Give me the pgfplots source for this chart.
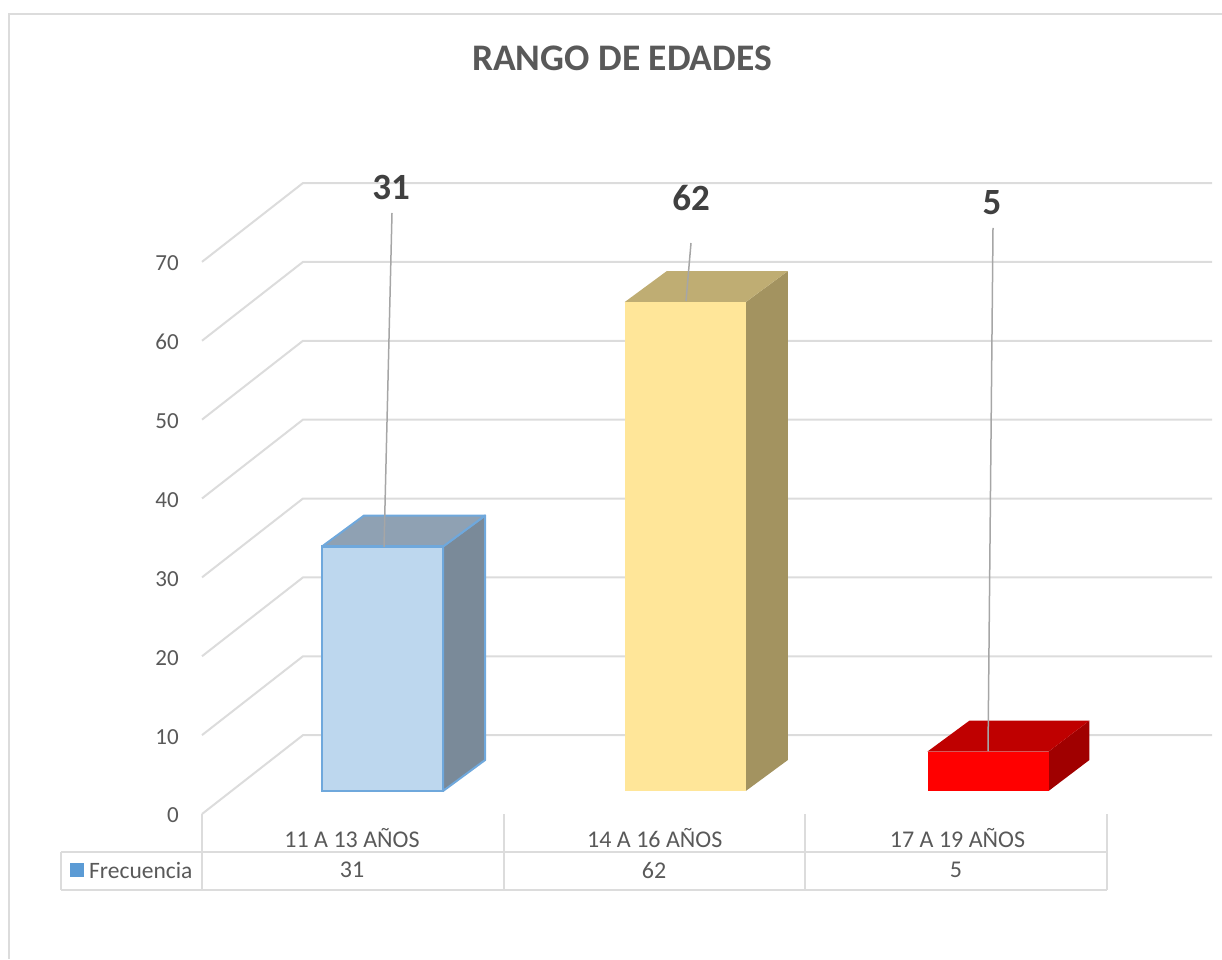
\documentclass[border=0pt]{standalone}
\usepackage{fontspec}
\setmainfont{Carlito}
\usepackage{pgfplots}
\pgfplotsset{compat=1.18}

\definecolor{gridc}{HTML}{DCDCDC}
\definecolor{txt}{HTML}{595959}
\definecolor{lbl}{HTML}{404040}
\definecolor{leader}{HTML}{A6A6A6}
\definecolor{blueedge}{HTML}{6FA8DC}

\newcommand{\fs}[1]{\fontsize{#1}{#1}\selectfont}

\begin{document}
\begin{tikzpicture}
\path[use as bounding box] (0pt,0pt) rectangle (1222pt,959pt);

% walls and y ticks: x in pixels of the wall, y on the front plane
\begin{axis}[
    at={(202pt,145pt)}, anchor=south west,
    scale only axis, width=1010pt, height=631pt,
    xmin=202, xmax=1212, ymin=0, ymax=80,
    clip=false,
    axis line style={draw=none},
    xtick=\empty,
    ytick={0,10,20,30,40,50,60,70},
    major tick length=0pt,
    yticklabel style={font=\fs{23}, text=txt, inner sep=0pt, xshift=-23pt, yshift=-1.5pt},
    /pgf/number format/assume math mode=true,
]
\pgfplotsinvokeforeach{0,10,...,70}{
    \addplot[gridc, line width=2pt, line join=round] coordinates {(202,#1) (303,#1+10) (1212,#1+10)};
}
\end{axis}

% bars: x in categories, y in values from the floor of the bars
\begin{axis}[
    at={(202pt,145pt)}, anchor=south west,
    scale only axis, width=1010pt, height=631pt,
    xmin=-0.5962, xmax=2.7399, ymin=-2.92, ymax=77.1,
    clip=false,
    axis line style={draw=none},
    ytick=\empty,
    xtick={0,1,2},
    xticklabels={11 A 13 AÑOS, 14 A 16 AÑOS, 17 A 19 AÑOS},
    major tick length=0pt,
    xticklabel style={font=\fs{24}, text=txt, inner sep=0pt, anchor=center, xshift=-30.5pt, yshift=-24pt},
]
% 11 A 13
\addplot[fill={rgb,255:red,122;green,138;blue,153}, draw=blueedge, line width=2pt, line join=round]
    coordinates {(.2,0) (.339,3.93) (.339,34.93) (.2,31)} --cycle;
\addplot[fill={rgb,255:red,143;green,161;blue,179}, draw=blueedge, line width=2pt, line join=round]
    coordinates {(-.2,31) (.2,31) (.339,34.93) (-.061,34.93)} --cycle;
\addplot[ybar, bar width=121pt, fill={rgb,255:red,189;green,215;blue,238}, draw=blueedge, line width=2.4pt]
    coordinates {(0,31)};
% 14 A 16
\addplot[fill={rgb,255:red,163;green,147;blue,96}, draw=none]
    coordinates {(1.2,0) (1.339,3.93) (1.339,65.93) (1.2,62)} --cycle;
\addplot[fill={rgb,255:red,191;green,173;blue,115}, draw=none]
    coordinates {(.8,62) (1.2,62) (1.339,65.93) (.939,65.93)} --cycle;
\addplot[ybar, bar width=121pt, fill={rgb,255:red,255;green,230;blue,153}, draw=none]
    coordinates {(1,62)};
% 17 A 19
\addplot[fill={rgb,255:red,160;green,0;blue,0}, draw=none]
    coordinates {(2.2,0) (2.335,3.93) (2.335,8.93) (2.2,5)} --cycle;
\addplot[fill={rgb,255:red,191;green,0;blue,0}, draw=none]
    coordinates {(1.8,5) (2.2,5) (2.335,8.93) (1.939,8.93)} --cycle;
\addplot[ybar, bar width=121pt, fill=red, draw=none]
    coordinates {(2,5)};
\end{axis}

% everything else in reference pixels, y downward
\begin{scope}[x=1pt, y=-1pt, yshift=959pt]
\draw[gridc, line width=1.8pt] (1222,14) -- (9,14) -- (9,959);
\node[font=\fs{37.5}\bfseries, text=txt] at (622,58) {RANGO DE EDADES};

% leader lines and data labels
\draw[leader, line width=1.5pt] (384,547) -- (392,213);
\draw[leader, line width=1.5pt] (686,301) -- (691,243);
\draw[leader, line width=1.5pt] (988,751) -- (993,228);
\node[font=\fs{37}\bfseries, text=lbl] at (391,188) {31};
\node[font=\fs{37}\bfseries, text=lbl] at (691,198) {62};
\node[font=\fs{37}\bfseries, text=lbl] at (992,203) {5};

% data table
\draw[gridc, line width=1.8pt] (61,852) -- (1107,852) (61,890) -- (1107,890) (61,852) -- (61,890);
\foreach \x in {202,504,805,1107} \draw[gridc, line width=1.8pt] (\x,814) -- (\x,890);
\fill[fill={rgb,255:red,91;green,155;blue,213}] (70,863) rectangle (84,877);
\node[font=\fs{23.5}, text=txt, anchor=west, inner sep=0pt] at (89,870) {Frecuencia};
\node[font=\fs{24}, text=txt] at (352,870) {31};
\node[font=\fs{24}, text=txt] at (654,870) {62};
\node[font=\fs{24}, text=txt] at (956,870) {5};
\end{scope}
\end{tikzpicture}
\end{document}
